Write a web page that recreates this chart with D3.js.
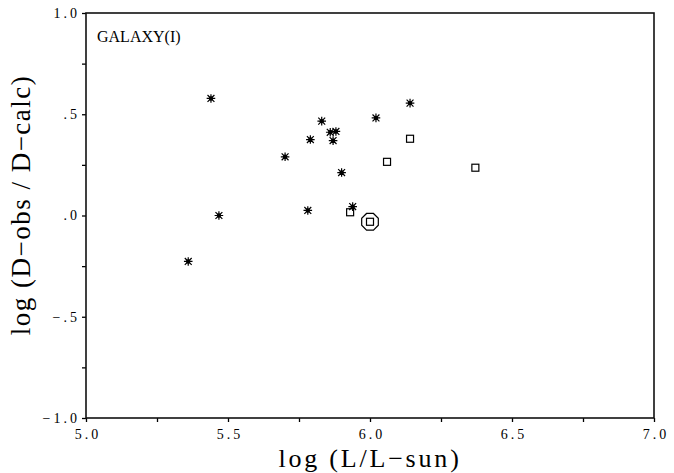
<!DOCTYPE html>
<html>
<head>
<meta charset="utf-8">
<script src="https://cdn.jsdelivr.net/npm/d3@7"></script>
<style>
  body { margin: 0; background: #fff; }
  .tick text { font-family: "Liberation Serif", serif; font-size: 14px; letter-spacing: 3px; fill: #000; }
  .title { font-family: "Liberation Serif", serif; fill: #000; }
</style>
</head>
<body>
<script>
// galaxy (I) scatter: log(D-obs/D-calc) vs log(L/L-sun)

var star_x = [5.440, 6.141, 5.468, 5.360, 5.701, 5.790, 5.830, 5.860, 5.880, 5.870, 5.900, 5.781, 6.021, 5.939];
var star_y = [0.578, 0.555, 0.000, -0.227, 0.290, 0.375, 0.466, 0.411, 0.415, 0.370, 0.212, 0.025, 0.482, 0.044];

var box_x = [6.141, 6.060, 6.371, 5.930, 6.000];
var box_y = [0.379, 0.265, 0.236, 0.016, -0.031];

// the one ringed point
var ring_x = [6.000];
var ring_y = [-0.031];

var x_ticks = [5.0, 5.5, 6.0, 6.5, 7.0];
var x_tick_labels = ["5.0", "5.5", "6.0", "6.5", "7.0"];
var y_ticks = [1.0, 0.5, 0.0, -0.5, -1.0];
var y_tick_labels = ["1.0", ".5", ".0", "\u2212.5", "\u22121.0"];

var W = 674, H = 473;
// (window.top is taken, so plot edges get a p_ prefix)
var p_left = 86, p_right = 654, p_top = 13, p_bottom = 418;

var svg = d3.select("body").append("svg")
  .attr("width", W)
  .attr("height", H);

var x = d3.scaleLinear().domain([5, 7]).range([p_left, p_right]);
var y = d3.scaleLinear().domain([-1, 1]).range([p_bottom, p_top]);

// minor ticks every .25, labels only on the .5 ones
var x_axis = d3.axisBottom(x)
  .tickValues(d3.range(5, 7.01, 0.25))
  .tickSizeInner(4)
  .tickSizeOuter(0)
  .tickPadding(7)
  .tickFormat(function(d){ var i = x_ticks.indexOf(+d.toFixed(2)); return i < 0 ? "" : x_tick_labels[i]; });

var y_axis = d3.axisLeft(y)
  .tickValues(d3.range(-1, 1.01, 0.25))
  .tickSizeInner(4)
  .tickSizeOuter(0)
  .tickPadding(5)
  .tickFormat(function(d){ var i = y_ticks.indexOf(+d.toFixed(2)); return i < 0 ? "" : y_tick_labels[i]; });

svg.append("g")
  .attr("class", "x axis")
  .attr("transform", "translate(0," + p_bottom + ")")
  .call(x_axis)
  .call(function(g){
    g.select(".domain").remove();
    g.selectAll(".tick line").attr("stroke", "#000").attr("stroke-width", 1.3);
    g.selectAll(".tick text").attr("dx", 1.5); // letter-spacing pushes text left
  });

svg.append("g")
  .attr("class", "y axis")
  .attr("transform", "translate(" + p_left + ",0)")
  .call(y_axis)
  .call(function(g){
    g.select(".domain").remove();
    g.selectAll(".tick line").attr("stroke", "#000").attr("stroke-width", 1.3);
    g.selectAll(".tick text").attr("dx", 3);
  });

// frame
svg.append("rect")
  .attr("x", p_left)
  .attr("y", p_top)
  .attr("width", p_right - p_left)
  .attr("height", p_bottom - p_top)
  .attr("fill", "none")
  .attr("stroke", "#111")
  .attr("stroke-width", 1.6);

svg.append("text")
  .attr("class", "title")
  .attr("x", 97)
  .attr("y", 42)
  .style("font-size", "16px")
  .text("GALAXY(I)");

svg.append("text")
  .attr("class", "title")
  .attr("x", (p_left + p_right) / 2)
  .attr("y", 467)
  .attr("text-anchor", "middle")
  .style("font-size", "26px")
  .style("letter-spacing", "2.8px")
  .text("log (L/L\u2212sun)");

svg.append("text")
  .attr("class", "title")
  .attr("transform", "translate(30,205) rotate(-90)")
  .attr("text-anchor", "middle")
  .style("font-size", "27px")
  .style("letter-spacing", "1.5px")
  .text("log (D\u2212obs / D\u2212calc)");

var stars = d3.zip(star_x, star_y);
var boxes = d3.zip(box_x, box_y);
var rings = d3.zip(ring_x, ring_y);

// asterisk: 8 short arms and a dark centre
var r = 4.3;
var star = svg.selectAll(".star")
  .data(stars)
  .enter().append("g")
  .attr("class", "star")
  .attr("transform", function(d){ return "translate(" + x(d[0]) + "," + y(d[1]) + ")"; });

star.append("path")
  .attr("d", "M" + (-r) + ",0H" + r + "M0," + (-r) + "V" + r +
    "M" + (-r * .8) + "," + (-r * .8) + "L" + (r * .8) + "," + (r * .8) +
    "M" + (-r * .8) + "," + (r * .8) + "L" + (r * .8) + "," + (-r * .8))
  .attr("stroke", "#000")
  .attr("stroke-width", 1.2);

star.append("circle")
  .attr("r", 2.2)
  .attr("fill", "#000");

svg.selectAll(".box")
  .data(boxes)
  .enter().append("rect")
  .attr("class", "box")
  .attr("x", function(d){ return x(d[0]) - 3.5; })
  .attr("y", function(d){ return y(d[1]) - 3.5; })
  .attr("width", 7)
  .attr("height", 7)
  .attr("fill", "none")
  .attr("stroke", "#000")
  .attr("stroke-width", 1.2);

// octagon round the marked point
var oct = d3.range(8).map(function(i){ var a = Math.PI / 8 + i * Math.PI / 4; return [9 * Math.cos(a), 9 * Math.sin(a)]; });
svg.selectAll(".ring")
  .data(rings)
  .enter().append("path")
  .attr("class", "ring")
  .attr("transform", function(d){ return "translate(" + x(d[0]) + "," + y(d[1]) + ")"; })
  .attr("d", d3.line()(oct) + "Z")
  .attr("fill", "none")
  .attr("stroke", "#000")
  .attr("stroke-width", 1.2);
</script>
</body>
</html>
